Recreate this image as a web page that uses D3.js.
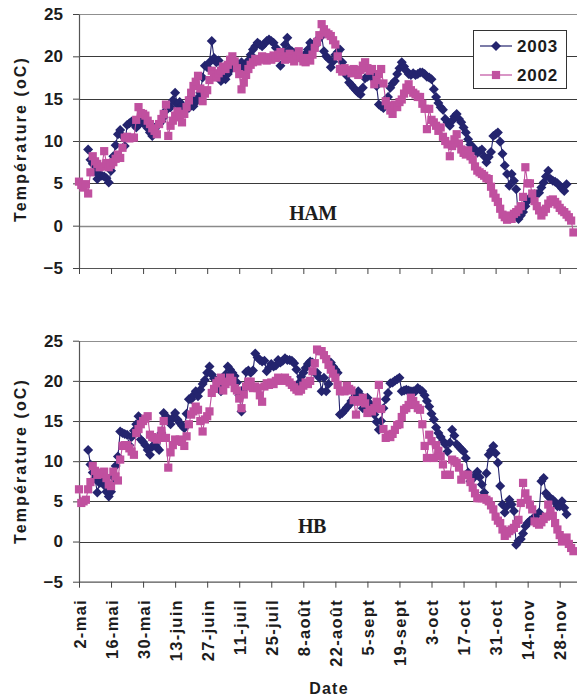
<!DOCTYPE html>
<html><head><meta charset="utf-8">
<script src="https://cdn.jsdelivr.net/npm/d3@7"></script>
<style>
body{margin:0;background:#fff}
svg{display:block}
text{font-family:"Liberation Sans",Arial,sans-serif;font-weight:bold;fill:#1c1c1c}
</style>
</head><body>
<svg id="c" width="577" height="698"></svg>
<script>
// ---------------- DATA ----------------
const dateLabels = ["2-mai","16-mai","30-mai","13-juin","27-juin","11-juil","25-juil","8-août","22-août","5-sept","19-sept","3-oct","17-oct","31-oct","14-nov","28-nov"];
const yTicks = [-5, 0, 5, 10, 15, 20, 25];
const seriesNames = ["2003", "2002"];
const panelNames = ["HAM", "HB"];
// day offset (from 2 May) of the first value of each series
const start2003 = 4;
const start2002 = 0;

const HAM_2003 = [9.0,7.8,7.3,
6.4,5.5,6.0,5.9,5.8,5.6,5.1,
6.5,8.2,9.5,10.8,11.3,10.6,9.4,
11.9,12.1,12.3,12.0,11.6,11.9,12.2,
12.1,12.1,11.5,11.0,10.6,11.4,11.8,
12.0,12.3,12.8,13.6,14.0,14.0,14.8,
15.7,14.3,14.6,14.2,14.0,13.9,13.9,
15.2,14.1,14.6,15.1,15.7,17.5,18.9,
18.7,19.3,21.8,19.8,19.3,19.5,17.1,
17.4,17.3,17.9,18.4,18.8,19.0,19.2,
18.9,19.3,18.5,19.0,19.5,20.2,20.8,
21.2,21.6,21.4,21.2,21.5,21.8,22.0,
21.8,21.6,21.0,20.2,18.9,20.5,21.4,
22.2,20.8,20.6,20.4,20.2,19.9,19.7,
20.0,20.3,20.8,21.6,21.4,21.2,21.8,
22.2,22.4,20.6,20.0,19.7,18.7,19.4,
20.2,20.5,20.8,19.3,18.4,17.7,16.9,
16.6,16.3,16.0,15.7,15.5,16.3,17.4,
17.6,17.8,17.9,17.2,16.5,14.3,14.1,
13.9,14.5,15.2,16.3,16.8,17.1,17.9,
18.6,19.3,18.8,18.3,17.9,17.8,18.0,
17.8,17.9,18.1,18.1,17.9,17.6,17.5,
17.3,16.1,15.2,14.5,14.0,13.7,12.6,
12.2,11.8,12.4,12.9,13.2,12.6,12.2,
11.6,11.0,10.2,9.6,9.3,9.0,8.6,
8.8,9.0,8.2,7.5,8.1,8.7,10.6,
10.8,11.0,9.9,8.5,7.1,6.1,4.7,
6.1,5.3,4.3,0.8,1.2,1.6,2.3,
2.9,3.3,3.6,3.7,3.7,3.9,4.5,
5.1,5.8,6.5,5.5,5.3,5.2,5.0,
4.7,4.4,4.1,4.9];

const HAM_2002 = [5.2,4.8,4.5,4.9,3.8,6.3,8.2,
7.6,7.3,6.9,7.0,8.8,7.4,6.9,
7.2,7.5,7.9,8.4,8.0,9.2,10.4,
10.5,10.3,10.4,10.4,12.5,14.0,13.3,
13.2,13.0,12.4,12.0,11.5,11.2,10.8,
12.0,12.6,13.2,14.3,10.6,11.8,12.4,
13.0,13.5,12.8,12.2,13.2,14.0,14.8,
15.7,16.5,17.0,17.7,16.2,14.7,15.6,
16.0,17.2,18.3,17.8,17.5,18.0,18.3,
18.8,18.5,19.0,19.6,20.0,19.4,18.6,
17.9,16.1,16.9,17.8,18.5,19.0,19.3,
19.7,19.4,19.6,20.0,19.8,19.5,19.9,
19.6,20.1,19.8,20.2,20.5,20.0,19.6,
19.9,20.3,19.7,19.4,20.1,20.6,19.8,
19.4,19.3,19.8,19.5,20.2,21.0,21.7,
22.5,23.8,23.2,22.8,22.6,22.4,21.9,
21.4,20.0,18.5,18.2,18.6,18.3,18.4,
18.0,18.5,18.2,17.8,18.4,18.9,19.3,
18.6,18.3,18.5,16.7,17.2,17.9,18.5,
16.8,14.7,14.2,13.6,13.2,14.3,14.0,
14.6,14.9,15.6,16.3,16.7,16.0,15.7,
15.5,15.2,15.2,14.4,13.8,11.4,13.8,
12.5,12.2,11.8,11.2,11.6,10.5,10.0,
9.6,8.2,9.4,10.2,10.8,9.7,9.0,
8.6,8.4,8.9,8.2,7.8,7.0,6.5,
6.3,6.1,5.9,5.6,5.5,4.6,3.8,
3.3,2.8,2.0,1.3,1.0,0.7,1.2,
0.8,1.4,1.6,1.9,2.3,3.4,6.9,
5.0,5.0,3.8,2.9,2.3,1.8,1.2,
1.6,2.0,2.6,3.0,3.1,2.8,2.5,
2.1,1.8,1.6,1.3,1.0,0.6,-0.8];

const HB_2003 = [11.4,9.6,8.6,
7.8,6.1,7.3,7.5,7.0,6.2,5.6,
6.2,8.0,9.4,10.6,13.7,13.5,13.4,
13.3,12.0,13.0,13.8,14.6,15.6,12.7,
12.4,12.0,11.4,10.8,11.8,12.1,11.7,
11.4,13.5,16.0,15.6,15.0,14.6,15.4,
16.0,15.2,14.8,14.4,14.1,15.9,17.7,
17.7,18.2,18.7,18.1,18.9,19.6,20.1,
21.0,21.8,20.8,20.3,20.0,19.4,18.7,
19.6,20.8,21.8,21.4,21.0,20.6,19.8,
18.2,16.2,19.0,21.1,21.3,21.0,21.3,
23.4,22.9,22.6,22.4,22.5,21.2,21.6,
22.1,21.8,21.9,22.6,22.3,22.5,22.8,
22.6,22.6,22.5,22.2,21.4,19.7,20.5,
21.0,21.6,22.1,22.4,22.3,21.0,21.0,
20.4,18.7,20.4,18.7,19.6,22.3,21.8,
21.4,21.0,15.8,16.0,16.3,16.7,17.0,
17.5,17.9,18.3,18.7,18.2,16.6,17.4,
17.9,17.2,16.4,15.8,14.9,13.9,15.0,
16.6,17.7,18.5,19.7,19.8,20.0,20.2,
20.4,18.7,18.8,18.9,18.8,18.7,18.7,
18.7,19.1,18.9,18.7,18.2,17.5,16.8,
15.9,15.2,14.2,13.5,13.0,12.5,12.1,
11.2,12.3,13.9,13.2,12.1,11.8,11.5,
11.2,10.4,8.6,7.5,7.8,8.2,8.7,
8.0,7.1,6.1,8.5,10.8,11.3,11.9,
11.0,9.8,6.9,4.6,3.6,4.4,5.2,
4.6,3.8,-0.4,0.1,0.3,1.0,1.9,
2.3,2.6,2.8,3.0,3.3,3.6,7.5,
7.9,6.0,5.6,5.4,5.2,4.9,4.4,
4.4,5.0,4.2,3.4];

const HB_2002 = [6.5,4.8,5.0,5.2,6.5,7.4,9.4,
8.8,8.3,8.6,8.4,8.7,7.9,7.1,
6.9,8.7,8.1,7.6,10.2,11.9,12.0,
12.0,11.6,11.2,10.8,13.5,14.0,14.6,
15.0,15.3,15.6,13.3,13.0,12.9,12.7,
12.9,13.8,15.0,12.9,9.2,11.1,12.0,
12.7,12.5,12.7,12.4,11.9,13.1,14.6,
15.8,16.2,16.8,16.4,15.0,13.7,15.2,
15.6,16.2,18.5,19.0,19.7,20.0,20.4,
18.8,19.6,19.9,20.4,20.0,19.1,18.8,
17.8,16.6,18.3,19.3,19.9,19.9,19.1,
19.3,19.1,18.2,17.4,19.3,19.7,19.5,
19.8,19.6,20.0,20.4,20.2,20.0,20.4,
20.1,19.8,19.5,19.2,18.9,18.7,18.9,
19.4,19.8,19.6,20.0,21.2,22.2,23.9,
23.7,23.7,23.2,22.7,22.0,21.4,20.9,
20.4,19.5,18.7,18.8,18.7,19.4,19.0,
18.8,17.6,15.8,17.4,17.6,17.9,17.2,
16.0,16.4,16.2,16.6,17.4,19.5,16.5,
14.0,12.9,13.3,13.0,13.4,13.9,14.5,
14.6,15.5,16.4,16.6,17.0,17.9,17.5,
17.0,16.6,16.4,14.6,11.9,10.4,13.3,
12.5,10.4,12.0,11.3,10.6,9.6,8.3,
8.3,8.3,10.2,10.0,9.8,9.2,7.7,
8.3,8.3,8.3,7.4,6.7,6.0,5.4,
5.4,5.4,5.4,5.2,5.0,4.5,4.0,
3.1,2.6,2.3,1.5,0.7,1.0,1.3,
1.5,1.7,2.2,2.7,4.8,7.3,6.0,
5.2,4.6,4.0,2.5,2.3,2.1,2.4,
2.8,3.1,4.6,3.8,3.2,2.3,1.5,
0.8,0.0,0.3,0.5,-0.3,-0.8,-1.2];

// ---------------- DRAW ----------------
const W = 577, H = 698;
const svg = d3.select("#c");
svg.append("rect").attr("width", W).attr("height", H).attr("fill", "#fff");

const col2003 = "#24246e", col2002 = "#c0509f";
const lastDay = 217.56;
const x = d3.scaleLinear().domain([0, lastDay]).range([79, 577]);
const tickDays = dateLabels.map((d, i) => i * 14);
const SQ = 8.2, DR = 5;

const panels = [
  {name: panelNames[0], s03: HAM_2003, s02: HAM_2002, top: 14, bottom: 268, lblX: 313, lblY: 220, titleY: 139},
  {name: panelNames[1], s03: HB_2003, s02: HB_2002, top: 340.7, bottom: 581.7, lblX: 312, lblY: 533, titleY: 461}
];

const diamond = r => `M0,${-r}L${r},0L0,${r}L${-r},0Z`;

panels.forEach((p, pi) => {
  const y = d3.scaleLinear().domain([-5, 25]).range([p.bottom, p.top]);
  const g = svg.append("g");

  // gridlines
  g.selectAll("line.grid").data(yTicks.filter(v => v > -5 && v < 25)).join("line")
    .attr("x1", x(0)).attr("x2", W).attr("y1", d => Math.round(y(d)) + 0.5).attr("y2", d => Math.round(y(d)) + 0.5)
    .attr("stroke", d => d === 0 && pi === 0 ? "#8a8a8a" : "#3a3a3a")
    .attr("stroke-width", d => d === 0 && pi === 0 ? 1.6 : 1);
  // top border
  g.append("line").attr("x1", x(0)).attr("x2", W).attr("y1", Math.round(y(25)) + 0.5).attr("y2", Math.round(y(25)) + 0.5)
    .attr("stroke", "#8f8f8f").attr("stroke-width", 1.2);

  // y axis
  const ya = g.append("g").attr("transform", `translate(${x(0)},0)`)
    .call(d3.axisLeft(y).tickValues(yTicks).tickSize(6).tickSizeOuter(0).tickPadding(10).tickFormat(d3.format("d")));
  ya.select(".domain").attr("stroke", "#555").attr("stroke-width", 1.2);
  ya.selectAll(".tick line").attr("stroke", "#444");
  ya.selectAll(".tick text").attr("font-size", 17).attr("font-weight", "bold")
    .attr("font-family", "'Liberation Sans', Arial, sans-serif").attr("fill", "#1c1c1c");

  // x axis
  const xa = g.append("g").attr("transform", `translate(0,${p.bottom})`)
    .call(d3.axisBottom(x).tickValues(tickDays).tickSize(6).tickSizeOuter(0).tickFormat(""));
  xa.select(".domain").attr("stroke", "#555").attr("stroke-width", 1.2);
  xa.selectAll(".tick line").attr("stroke", "#444");

  // y title
  g.append("text").attr("transform", `translate(26,${p.titleY}) rotate(-90)`)
    .attr("text-anchor", "middle").attr("font-size", 16).attr("letter-spacing", 2.1)
    .text("Température (oC)");

  // panel label
  g.append("text").attr("x", p.lblX).attr("y", p.lblY).attr("text-anchor", "middle")
    .style("font-family", "'Liberation Serif','Times New Roman',serif").attr("font-size", 20).attr("letter-spacing", -0.5)
    .text(p.name);

  // series
  const mk = (arr, start) => arr.map((v, i) => ({d: start + i, v}));
  const d03 = mk(p.s03, start2003), d02 = mk(p.s02, start2002);
  const line = d3.line().x(d => x(d.d)).y(d => y(d.v));

  g.append("path").datum(d03).attr("d", line).attr("fill", "none").attr("stroke", col2003).attr("stroke-width", 1.1);
  g.selectAll("path.m03").data(d03).join("path").attr("class", "m03")
    .attr("transform", d => `translate(${x(d.d)},${y(d.v)})`).attr("d", diamond(DR)).attr("fill", col2003);

  g.append("path").datum(d02).attr("d", line).attr("fill", "none").attr("stroke", col2002).attr("stroke-width", 1.1);
  g.selectAll("rect.m02").data(d02).join("rect").attr("class", "m02")
    .attr("x", d => x(d.d) - SQ / 2).attr("y", d => y(d.v) - SQ / 2).attr("width", SQ).attr("height", SQ).attr("fill", col2002);

  if (pi === 0) {
    // legend
    const lg = g.append("g");
    lg.append("rect").attr("x", 473.5).attr("y", 30.5).attr("width", 93).attr("height", 58)
      .attr("fill", "#fff").attr("stroke", "#333").attr("stroke-width", 1);
    const items = [{n: seriesNames[0], c: col2003, t: "d", yy: 46}, {n: seriesNames[1], c: col2002, t: "s", yy: 75}];
    items.forEach(it => {
      lg.append("line").attr("x1", 480).attr("x2", 512).attr("y1", it.yy).attr("y2", it.yy).attr("stroke", it.c).attr("stroke-width", 1.2);
      if (it.t === "d") lg.append("path").attr("transform", `translate(496,${it.yy})`).attr("d", diamond(DR)).attr("fill", it.c);
      else lg.append("rect").attr("x", 496 - SQ / 2).attr("y", it.yy - SQ / 2).attr("width", SQ).attr("height", SQ).attr("fill", it.c);
      lg.append("text").attr("x", 517).attr("y", it.yy + 6).attr("font-size", 17).attr("letter-spacing", 0.8).text(it.n);
    });
  } else {
    // date labels
    g.selectAll("text.dl").data(dateLabels).join("text").attr("class", "dl")
      .attr("transform", (d, i) => `translate(${x(tickDays[i]) + 6.5},599) rotate(-90)`)
      .attr("text-anchor", "end").attr("font-size", 16.5).attr("letter-spacing", 1.3)
      .text(d => d);
  }
});

svg.append("text").attr("x", 329).attr("y", 694).attr("text-anchor", "middle")
  .attr("font-size", 16).attr("letter-spacing", 1.2).text("Date");
</script>
</body></html>
